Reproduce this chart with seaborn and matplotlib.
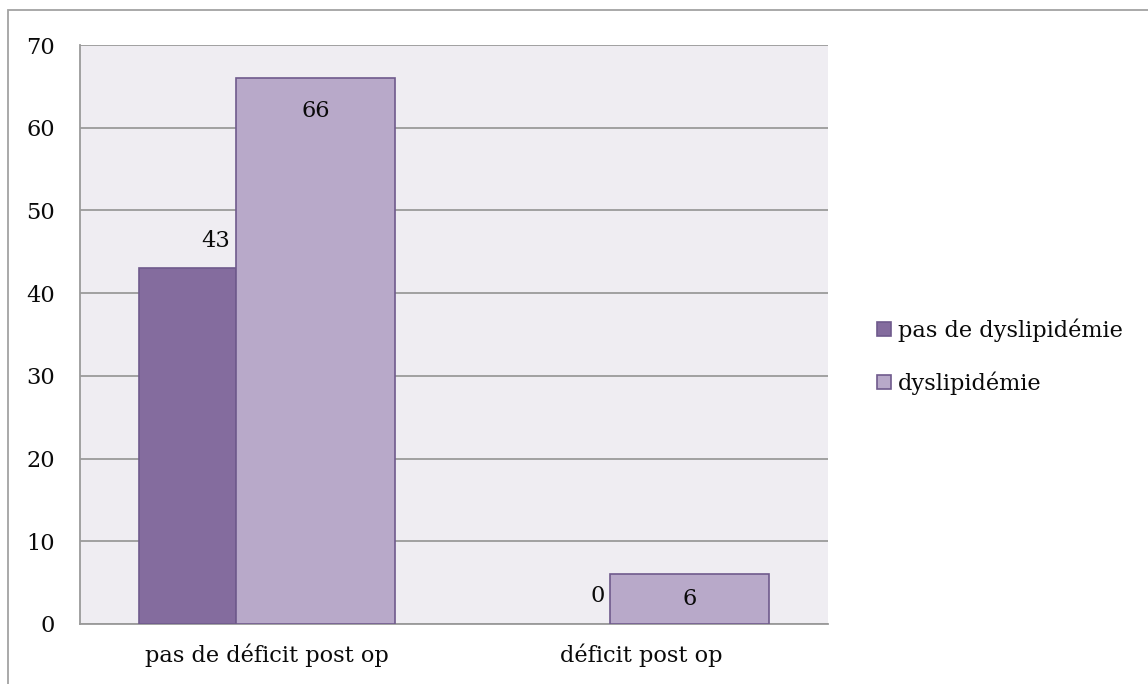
import matplotlib
matplotlib.use("Agg")
import matplotlib.pyplot as plt
from matplotlib.patches import Rectangle
import seaborn as sns
import pandas as pd

categories = ["pas de déficit post op", "déficit post op"]
series = ["pas de dyslipidémie", "dyslipidémie"]
no_dyslip = [43, 0]
dyslip = [66, 6]
y_ticks = [0, 10, 20, 30, 40, 50, 60, 70]

df = pd.DataFrame({
    "categorie": categories * 2,
    "groupe": [series[0]] * 2 + [series[1]] * 2,
    "valeur": no_dyslip + dyslip,
})

dark = "#846C9E"
light = "#B8A9C9"
edge = "#6F5A8C"
bg = "#EFEDF2"
grid = "#9A9A9A"
txt = "#0A0A0A"
fs = 16.2

sns.set_theme(style="white")
plt.rcParams["font.family"] = ["DejaVu Serif"]

W, H = 1148, 684
fig = plt.figure(figsize=(W / 100, H / 100), dpi=100)
fig.patch.set_facecolor("white")

# outer chart frame (left and top edges visible)
fig.add_artist(Rectangle((8 / W, -0.1), 1.2, 1.1 - 10 / H,
                         transform=fig.transFigure, fill=False,
                         edgecolor="#A3A3A3", linewidth=1.3))

ax = fig.add_axes([80 / W, 60 / H, 748 / W, 579 / H])
ax.set_facecolor(bg)

sns.barplot(data=df, x="categorie", y="valeur", hue="groupe",
            order=categories, hue_order=series,
            palette=[dark, light], width=0.684, dodge=True,
            edgecolor=edge, linewidth=1.2, saturation=1, ax=ax,
            legend=True, zorder=3)

# uneven split within each group: narrower first bar
split = -0.083
n = len(categories)
bars = ax.patches[: 2 * n]
for i in range(n):
    b0, b1 = bars[i], bars[n + i]
    left = b0.get_x()
    right = b1.get_x() + b1.get_width()
    center = (left + right) / 2
    b0.set_x(left)
    b0.set_width(center + split - left)
    b1.set_x(center + split)
    b1.set_width(right - (center + split))
    if b0.get_height() == 0:
        b0.set_linewidth(0)

    # value labels
    v0 = no_dyslip[i]
    v1 = dyslip[i]
    ax.annotate(f"{v0}", xy=(center + split, v0), xytext=(-4, 20),
                textcoords="offset points", ha="right", va="center",
                fontsize=fs, color=txt, zorder=5)
    if v1 > 12:
        ax.annotate(f"{v1}", xy=(center + split + b1.get_width() / 2, v1),
                    xytext=(0, -24), textcoords="offset points",
                    ha="center", va="center", fontsize=fs,
                    color=txt, zorder=5)
    else:
        ax.annotate(f"{v1}", xy=(center + split + b1.get_width() / 2, v1 / 2),
                    ha="center", va="center", fontsize=fs,
                    color=txt, zorder=5)

ax.set_xlim(-0.5, 1.5)
ax.set_ylim(0, 70)
ax.set_yticks(y_ticks)
ax.set_yticklabels([str(t) for t in y_ticks])
ax.grid(axis="y", color=grid, linewidth=1.3, zorder=0)
ax.set_axisbelow(True)
ax.set_xlabel("")
ax.set_ylabel("")
ax.tick_params(axis="y", length=0, pad=18, labelsize=fs, labelcolor=txt)
ax.tick_params(axis="x", length=0, pad=14, labelsize=fs, labelcolor=txt)

for s in ["right", "top"]:
    ax.spines[s].set_visible(False)
for s in ["left", "bottom"]:
    ax.spines[s].set_color(grid)
    ax.spines[s].set_linewidth(1.3)

ax.legend(loc="center left", bbox_to_anchor=(1.054, 0.462), frameon=False,
          fontsize=fs, handlelength=0.6, handleheight=0.6,
          handletextpad=0.3, labelspacing=1.3, borderaxespad=0,
          labelcolor=txt)

fig.savefig("out.png", dpi=100, facecolor="white")
